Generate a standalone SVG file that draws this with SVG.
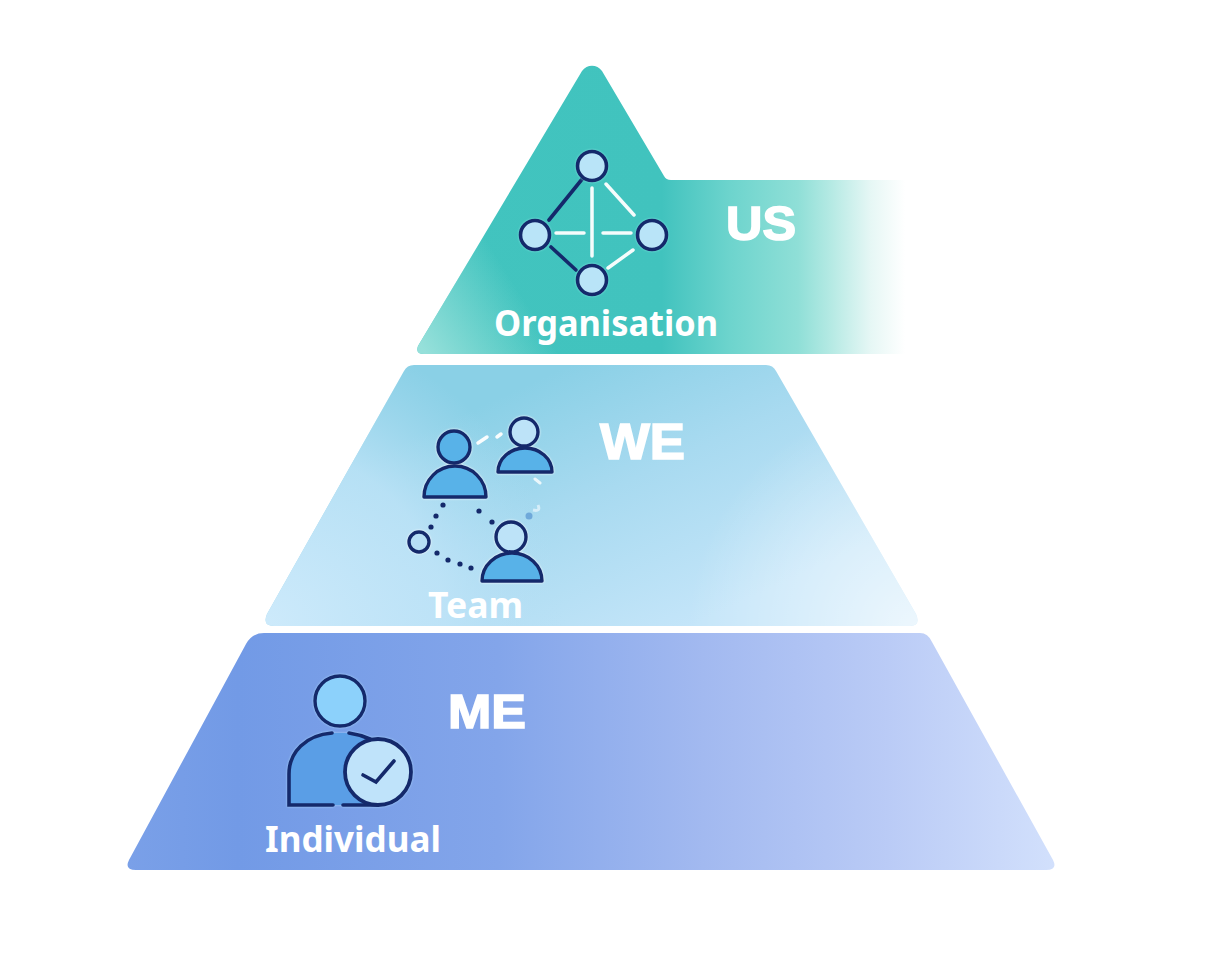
<svg xmlns="http://www.w3.org/2000/svg" width="1205" height="963" viewBox="0 0 1205 963">
<style>
.lab{font-family:"Noto Sans","Open Sans",sans-serif;font-weight:700;fill:#fff}
.big{font-family:"Liberation Sans",Arial,sans-serif;font-weight:700;fill:#fff;stroke:#fff;stroke-width:1.6}
.nav{stroke:#14296b;stroke-width:3.6;stroke-linecap:round;fill:none}
.wl{stroke:#fff;stroke-width:3.5;stroke-linecap:round;fill:none;opacity:.95}
.nd{fill:#b9e4f8;stroke:#14296b;stroke-width:3.6}
.body{fill:#58b2e8;stroke:#14296b;stroke-width:3.4;stroke-linejoin:round}
.dot{fill:#14296b}
.glow-t{filter:drop-shadow(0 0 1px #7fe6df)}
.glow-w{filter:drop-shadow(0 0 1px #fff)}
.glow-b{filter:drop-shadow(0 0 1px #a9d6fb)}
</style>
<defs>
<linearGradient id="gt" gradientUnits="userSpaceOnUse" x1="418" y1="0" x2="905" y2="0">
<stop offset="0" stop-color="#42c4bf"/><stop offset=".5" stop-color="#41c3be"/><stop offset=".64" stop-color="#6dd4cd"/><stop offset=".78" stop-color="#8fdfd7"/><stop offset=".85" stop-color="#b6eae4"/><stop offset=".93" stop-color="#e6f7f5"/><stop offset="1" stop-color="#fff"/>
</linearGradient>
<linearGradient id="gtl" gradientUnits="userSpaceOnUse" x1="420" y1="345" x2="515" y2="285">
<stop offset="0" stop-color="#9fe3dd" stop-opacity=".9"/><stop offset="1" stop-color="#9fe3dd" stop-opacity="0"/>
</linearGradient>
<linearGradient id="gm" gradientUnits="userSpaceOnUse" x1="570" y1="365" x2="690" y2="626">
<stop offset="0" stop-color="#8ad0e6"/><stop offset=".45" stop-color="#a8daf0"/><stop offset="1" stop-color="#c4e5f9"/>
</linearGradient>
<radialGradient id="gmr" gradientUnits="userSpaceOnUse" cx="918" cy="630" r="230">
<stop offset="0" stop-color="#fff" stop-opacity=".7"/><stop offset="1" stop-color="#fff" stop-opacity="0"/>
</radialGradient>
<radialGradient id="gml" gradientUnits="userSpaceOnUse" cx="265" cy="626" r="300">
<stop offset="0" stop-color="#cdeafb"/><stop offset=".6" stop-color="#c0e4f8" stop-opacity=".8"/><stop offset="1" stop-color="#b4def4" stop-opacity="0"/>
</radialGradient>
<linearGradient id="gb" gradientUnits="userSpaceOnUse" x1="127" y1="0" x2="1055" y2="0">
<stop offset="0" stop-color="#7aa0e8"/><stop offset=".12" stop-color="#729ae6"/><stop offset=".4" stop-color="#83a5ea"/><stop offset=".62" stop-color="#a2b9f0"/><stop offset=".82" stop-color="#bacbf6"/><stop offset="1" stop-color="#d2e0fc"/>
</linearGradient>
</defs>
<rect width="1205" height="963" fill="#fff"/>
<g id="tier-us">
<path d="M582 71C587 64 597 64 602 71L664 176Q666 180 671 180H905V354H424Q415 354 418 346Z" fill="url(#gt)"/>
<path d="M582 71C587 64 597 64 602 71L664 176Q666 180 671 180H905V354H424Q415 354 418 346Z" fill="url(#gtl)"/>
<text class="big" x="726" y="240" font-size="49" textLength="70" lengthAdjust="spacingAndGlyphs">US</text>
</g>
<g id="tier-we">
<path d="M404 371Q407 365 414 365H766Q773 365 776 371L916 614Q921 626 910 626H274Q262 626 267 614Z" fill="url(#gm)"/>
<path d="M404 371Q407 365 414 365H766Q773 365 776 371L916 614Q921 626 910 626H274Q262 626 267 614Z" fill="url(#gml)"/>
<path d="M404 371Q407 365 414 365H766Q773 365 776 371L916 614Q921 626 910 626H274Q262 626 267 614Z" fill="url(#gmr)"/>
<text class="big" x="600" y="459" font-size="50" textLength="85" lengthAdjust="spacingAndGlyphs">WE</text>
</g>
<g id="tier-me">
<path d="M246 644Q252 633 264 633H920Q928 633 932 642L1053 860Q1058 870 1046 870H136Q124 870 129 860Z" fill="url(#gb)"/>
<text class="big" x="448" y="728" font-size="49" textLength="78" lengthAdjust="spacingAndGlyphs">ME</text>
</g>
<g id="connectors">
<path class="nav" d="M583 178L549 220M551 247L576 270"/>
<path class="wl" d="M606 184L634 215M592 188V256M556 233H584M603 233H631M608 268L633 250"/>
<path class="wl" d="M478 443L487 437M497 437L501 434"/>
<path d="M535 479L540 483" stroke="#fff" stroke-width="3" stroke-linecap="round" opacity=".8"/>
<path d="M533 510Q541 512 538 505" stroke="#e2f2fb" stroke-width="3" fill="none" opacity=".8"/>
<circle cx="529" cy="516" r="3.5" fill="#6fa9da"/>
<circle class="dot" cx="443" cy="505" r="2.6"/><circle class="dot" cx="436" cy="516" r="2.6"/><circle class="dot" cx="431" cy="527" r="2.6"/>
<circle class="dot" cx="479" cy="511" r="2.6"/><circle class="dot" cx="492" cy="522" r="2.6"/>
<circle class="dot" cx="437" cy="553" r="2.6"/><circle class="dot" cx="448" cy="560" r="2.6"/><circle class="dot" cx="460" cy="564" r="2.6"/><circle class="dot" cx="471" cy="568" r="2.6"/>
</g>
<g id="icon-organisation" class="glow-t">
<circle class="nd" cx="592" cy="166" r="14.5"/><circle class="nd" cx="535" cy="235" r="14.5"/><circle class="nd" cx="652" cy="235" r="14.5"/><circle class="nd" cx="592" cy="280" r="14.5"/>
</g>
<g id="icon-team" class="glow-w">
<circle class="body" cx="454" cy="447" r="16"/>
<path class="body" d="M424 497A31 31 0 0 1 486 497Z"/>
<circle cx="524" cy="432" r="14" fill="#bde3f8" stroke="#14296b" stroke-width="3.4"/>
<path class="body" d="M498 472A27 24 0 0 1 552 472Z"/>
<circle cx="511" cy="537" r="15" fill="#bde3f8" stroke="#14296b" stroke-width="3.4"/>
<path class="body" d="M482 581A30 28 0 0 1 542 581Z"/>
<circle cx="419" cy="542" r="10" fill="#b7def5" stroke="#14296b" stroke-width="3.4"/>
</g>
<g id="icon-individual" class="glow-b">
<path d="M289 805V774C289 752 306 735 332 733H345C360 734 372 738 378 745V805Z" fill="#5a9ee6"/>
<path class="nav" d="M332 733C306 735 289 752 289 774V805H333M349 733C356 734 363 736 370 739M343 805H378"/>
<circle cx="340" cy="701" r="25" fill="#8cd1fb" stroke="#14296b" stroke-width="3.4"/>
<circle cx="378" cy="772" r="33" fill="#bfe3fa" stroke="#14296b" stroke-width="3.8"/>
<path class="nav" d="M363 775L376 782L394 761"/>
</g>
<text class="lab" x="494" y="336" font-size="35" textLength="224" lengthAdjust="spacingAndGlyphs">Organisation</text>
<text class="lab" x="428" y="618" font-size="35" textLength="95" lengthAdjust="spacingAndGlyphs">Team</text>
<text class="lab" x="265" y="852" font-size="35" textLength="176" lengthAdjust="spacingAndGlyphs">Individual</text>
</svg>
